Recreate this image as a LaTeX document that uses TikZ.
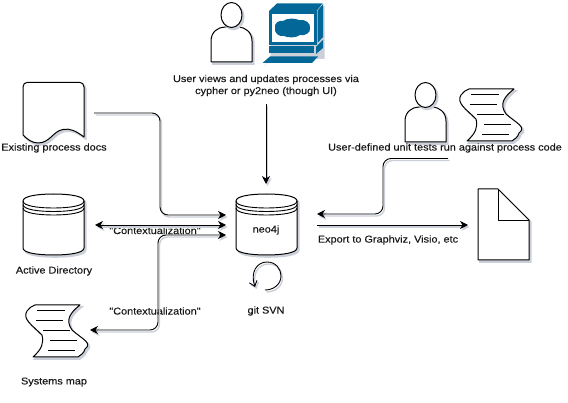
\documentclass[tikz,border=0pt]{standalone}
\usepackage{fontspec}
\usetikzlibrary{arrows.meta}
\newfontfamily\lblfont[FakeBold=0.3,FakeStretch=1.1]{Liberation Sans}
\definecolor{teal}{HTML}{036897}
\definecolor{shade}{HTML}{CBCFD8}
\tikzset{
  x=1pt,y=-1pt,
  lbl/.style={font=\lblfont\fontsize{9.9}{12}\selectfont,text=black!90,align=center,inner sep=0pt},
  outline/.style={draw=black,line width=1pt,fill=white,line join=round,
    preaction={draw=shade,line width=1.6pt,fill=shade,transform canvas={shift={(1.8pt,-2pt)}}}},
  inkline/.style={draw=black,line width=0.9pt},
  conn/.style={draw=black,line width=0.9pt,rounded corners=8pt,
    preaction={draw=shade,line width=1.4pt,transform canvas={shift={(1.5pt,-2pt)}}}},
  tip/.style={-{Stealth[length=8pt,width=8pt,inset=2.5pt]}},
  tips/.style={{Stealth[length=8pt,width=8pt,inset=2.5pt]}-{Stealth[length=8pt,width=8pt,inset=2.5pt]}},
  tealfill/.style={fill=teal,draw=none},
  person/.pic={
    \path[outline] (0,59) -- (0,38) .. controls (0,29) and (7,24) .. (14,24) -- (27,24) .. controls (34,24) and (41,29) .. (41,38) -- (41,59) -- cycle;
    \path[outline] (20.5,12) ellipse [x radius=10.5pt,y radius=12.5pt];
  },
  scroll/.pic={
    \path[outline] (35,0) -- (80,0) .. controls (70,8) and (65,15) .. (72,25) .. controls (82,34) and (93,38) .. (85,44) .. controls (84,48) and (81,50) .. (78,52) -- (33,52) .. controls (42,44) and (44,38) .. (42,30) .. controls (32,20) and (22,14) .. (27,6) .. controls (29,3) and (32,1) .. (35,0) -- cycle;
    \draw[inkline] (37,5.5) -- (65,5.5) (36,15.5) -- (63,15.5) (43,25.5) -- (70,25.5) (50,35.5) -- (77,35.5) (48,45.5) -- (75,45.5);
  },
  cyl/.pic={
    \path[outline] (0,7) -- (0,54) .. controls (0,59) and (15,61) .. (30.5,61) .. controls (46,61) and (61,59) .. (61,54) -- (61,7) .. controls (61,2) and (46,0) .. (30.5,0) .. controls (15,0) and (0,2) .. (0,7) -- cycle;
    \draw[inkline] (0,7) .. controls (0,12) and (15,14) .. (30.5,14) .. controls (46,14) and (61,12) .. (61,7);
    \draw[inkline] (0,10.5) .. controls (0,15.5) and (15,17.5) .. (30.5,17.5) .. controls (46,17.5) and (61,15.5) .. (61,10.5);
    \draw[inkline] (0,14) .. controls (0,19) and (15,21) .. (30.5,21) .. controls (46,21) and (61,19) .. (61,14);
  }
}
\begin{document}
\begin{tikzpicture}
\useasboundingbox (0,0) rectangle (568,403);
% person + computer
\pic at (211,3) {person};
\path[fill=shade,transform canvas={shift={(1.5pt,-2pt)}}] (262,65) -- (270,57) -- (323,57) -- (323,4) -- (277,4) -- (269,11) -- (269,57) -- cycle;
\path[tealfill] (269,11) -- (277,3.5) -- (322.5,3.5) -- (316.5,11) -- cycle;
\path[tealfill] (317.5,11) -- (323,4) -- (323,37) -- (317.5,43) -- cycle;
\path[tealfill] (269,11.5) rectangle (316.5,45);
\path[fill=white] (272,14.5) rectangle (313.5,42);
\path[tealfill] (275,28) .. controls (274,23) and (279,20) .. (283,21) .. controls (287,18) and (295,18) .. (299,20) .. controls (305,19) and (311,23) .. (310,28) .. controls (311,33) and (305,36) .. (300,35) .. controls (296,38) and (288,38) .. (284,36) .. controls (279,37) and (274,33) .. (275,28) -- cycle;
\path[tealfill] (269,46.5) rectangle (314,53.5);
\path[tealfill] (316,47) -- (323,40) -- (323,48) -- (316,54) -- cycle;
\path[tealfill] (262.5,63) -- (270,56.5) -- (318,56.5) -- (312,63) -- cycle;
% documents
\path[outline] (23,87) .. controls (23,84) and (25,82.5) .. (27,82.5) -- (80,82.5) .. controls (82,82.5) and (84,84) .. (84,87) -- (84,137) .. controls (76,131) and (70,128) .. (63,129.5) .. controls (53,131) and (50,143) .. (38,143) .. controls (32,143) and (27,139) .. (23,135) -- cycle;
\pic at (23,194) {cyl};
\pic at (236,194) {cyl};
\pic at (0,305) {scroll};
\pic at (434,89) {scroll};
\pic at (405,83) {person};
\path[outline] (478,189) -- (498,189) -- (529,220) -- (529,260) -- (478,260) -- cycle;
\draw[inkline,line join=round] (498,189) -- (498,220) -- (529,220);
% labels
\node[lbl] (views) at (266,85.5) {User views and updates processes via\\cypher or py2neo (though UI)};
\node[lbl] (docs) at (54,148) {Existing process docs};
\node[lbl] (ctx1) at (155,230.5) {"Contextualization"};
\node[lbl] (ctx2) at (155,311) {"Contextualization"};
\node[lbl] (ad) at (54,271) {Active Directory};
\node[lbl] (sys) at (54,382) {Systems map};
\node[lbl] (neo) at (266,230) {neo4j};
\node[lbl] (git) at (266,311) {git SVN};
\node[lbl] (tests) at (445,148) {User-defined unit tests run against process code};
\node[lbl] (export) at (388,240) {Export to Graphviz, Visio, etc};
% connector ends
\coordinate (docsE) at (94,113);
\coordinate (neoA) at (226,215);
\coordinate (neoB) at (226,225);
\coordinate (neoC) at (226,235);
\coordinate (neoD) at (266,184);
\coordinate (adE) at (95,225);
\coordinate (sysE) at (90,330);
\coordinate (neoE) at (317,214);
\coordinate (neoF) at (317,225);
\coordinate (pageW) at (468,225);
\coordinate (testS) at (448,158.5);
\coordinate (viewsS) at (266,104);
% connectors
\draw[conn,tip] (docsE) -| (160,215) -- (neoA);
\draw[conn,tips] (adE) -- (neoB);
\draw[conn,tips] (neoC) -| (158,330) -- (sysE);
\draw[conn,tip] (viewsS) -- (neoD);
\draw[conn,tip] (testS) -| (383,214) -- (neoE);
\draw[conn,tip] (neoF) -- (pageW);
\draw[conn,rounded corners=0pt,{Straight Barb[length=5pt,width=8pt]}-] (255,287) .. controls (250,272) and (257,262) .. (267,262) .. controls (276,262) and (281,269) .. (281,276) .. controls (281,284) and (274,290) .. (265,290);
\end{tikzpicture}
\end{document}
